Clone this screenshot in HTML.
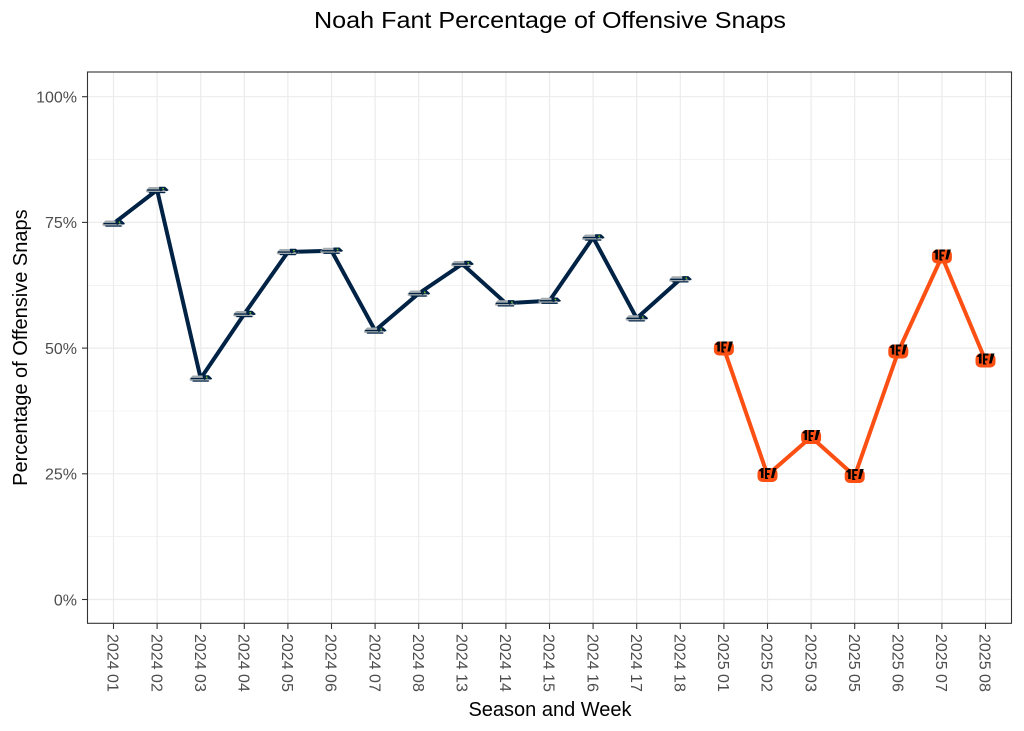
<!DOCTYPE html>
<html>
<head>
<meta charset="utf-8">
<style>
  html,body{margin:0;padding:0;background:#fff;}
  svg{display:block;}
  text{font-family:"Liberation Sans",sans-serif;}
</style>
</head>
<body>
<svg width="1024" height="731" viewBox="0 0 1024 731" xmlns="http://www.w3.org/2000/svg">
  <rect x="0" y="0" width="1024" height="731" fill="#fff"/>
  <!-- panel background -->
  <rect x="87.5" y="72" width="924" height="551.3" fill="#fff"/>
  <!-- minor gridlines -->
  <g stroke="#ebebeb" stroke-width="0.6">
    <line x1="87.5" x2="1011.5" y1="536.7" y2="536.7"/>
    <line x1="87.5" x2="1011.5" y1="411" y2="411"/>
    <line x1="87.5" x2="1011.5" y1="285.3" y2="285.3"/>
    <line x1="87.5" x2="1011.5" y1="159.6" y2="159.6"/>
  </g>
  <!-- major gridlines -->
  <g stroke="#ebebeb" stroke-width="1.2">
    <line x1="87.5" x2="1011.5" y1="599.5" y2="599.5"/>
    <line x1="87.5" x2="1011.5" y1="473.8" y2="473.8"/>
    <line x1="87.5" x2="1011.5" y1="348.1" y2="348.1"/>
    <line x1="87.5" x2="1011.5" y1="222.4" y2="222.4"/>
    <line x1="87.5" x2="1011.5" y1="96.7" y2="96.7"/>
    <line y1="72" y2="623.3" x1="113.5" x2="113.5"/>
    <line y1="72" y2="623.3" x1="157.1" x2="157.1"/>
    <line y1="72" y2="623.3" x1="200.7" x2="200.7"/>
    <line y1="72" y2="623.3" x1="244.3" x2="244.3"/>
    <line y1="72" y2="623.3" x1="287.9" x2="287.9"/>
    <line y1="72" y2="623.3" x1="331.5" x2="331.5"/>
    <line y1="72" y2="623.3" x1="375.1" x2="375.1"/>
    <line y1="72" y2="623.3" x1="418.7" x2="418.7"/>
    <line y1="72" y2="623.3" x1="462.3" x2="462.3"/>
    <line y1="72" y2="623.3" x1="505.9" x2="505.9"/>
    <line y1="72" y2="623.3" x1="549.5" x2="549.5"/>
    <line y1="72" y2="623.3" x1="593.1" x2="593.1"/>
    <line y1="72" y2="623.3" x1="636.7" x2="636.7"/>
    <line y1="72" y2="623.3" x1="680.3" x2="680.3"/>
    <line y1="72" y2="623.3" x1="723.9" x2="723.9"/>
    <line y1="72" y2="623.3" x1="767.5" x2="767.5"/>
    <line y1="72" y2="623.3" x1="811.1" x2="811.1"/>
    <line y1="72" y2="623.3" x1="854.7" x2="854.7"/>
    <line y1="72" y2="623.3" x1="898.3" x2="898.3"/>
    <line y1="72" y2="623.3" x1="941.9" x2="941.9"/>
    <line y1="72" y2="623.3" x1="985.5" x2="985.5"/>
  </g>

  <!-- series lines -->
  <polyline fill="none" stroke="#002244" stroke-width="4" stroke-linejoin="round"
    points="113.5,223.5 157.1,190 200.7,378.5 244.3,314 287.9,252 331.5,250.7 375.1,330.5 418.7,293.5 462.3,264 505.9,303.3 549.5,300.7 593.1,237.5 636.7,318.3 680.3,279.3"/>
  <polyline fill="none" stroke="#FB4F14" stroke-width="4" stroke-linejoin="round"
    points="723.9,348.5 767.5,475 811.1,437 854.7,476 898.3,351.5 941.9,256.5 985.5,360.5"/>

  <!-- Seahawks icons -->
  <g id="sea0" transform="translate(113.5,223.5)">
    <polygon points="-11,0 -8,-3 5,-3 10,-1.5 11.5,1 8,1 9,3 -8,3 -11,2" fill="#a5acaf"/>
    <polygon points="2,-3.2 8,-3.2 11.5,0 9.5,1.2 6.5,0 3.5,1.5 2,-1" fill="#002244"/>
    <rect x="-10" y="-0.6" width="13" height="1.3" fill="#002244"/>
    <rect x="-8" y="2" width="16" height="1.2" fill="#002244"/>
    <circle cx="6" cy="-1.2" r="0.9" fill="#69be28"/>
  </g>
  <g transform="translate(157.1,190)"><polygon points="-11,0 -8,-3 5,-3 10,-1.5 11.5,1 8,1 9,3 -8,3 -11,2" fill="#a5acaf"/><polygon points="2,-3.2 8,-3.2 11.5,0 9.5,1.2 6.5,0 3.5,1.5 2,-1" fill="#002244"/><rect x="-10" y="-0.6" width="13" height="1.3" fill="#002244"/><rect x="-8" y="2" width="16" height="1.2" fill="#002244"/><circle cx="6" cy="-1.2" r="0.9" fill="#69be28"/></g>
  <g transform="translate(200.7,378.5)"><polygon points="-11,0 -8,-3 5,-3 10,-1.5 11.5,1 8,1 9,3 -8,3 -11,2" fill="#a5acaf"/><polygon points="2,-3.2 8,-3.2 11.5,0 9.5,1.2 6.5,0 3.5,1.5 2,-1" fill="#002244"/><rect x="-10" y="-0.6" width="13" height="1.3" fill="#002244"/><rect x="-8" y="2" width="16" height="1.2" fill="#002244"/><circle cx="6" cy="-1.2" r="0.9" fill="#69be28"/></g>
  <g transform="translate(244.3,314)"><polygon points="-11,0 -8,-3 5,-3 10,-1.5 11.5,1 8,1 9,3 -8,3 -11,2" fill="#a5acaf"/><polygon points="2,-3.2 8,-3.2 11.5,0 9.5,1.2 6.5,0 3.5,1.5 2,-1" fill="#002244"/><rect x="-10" y="-0.6" width="13" height="1.3" fill="#002244"/><rect x="-8" y="2" width="16" height="1.2" fill="#002244"/><circle cx="6" cy="-1.2" r="0.9" fill="#69be28"/></g>
  <g transform="translate(287.9,252)"><polygon points="-11,0 -8,-3 5,-3 10,-1.5 11.5,1 8,1 9,3 -8,3 -11,2" fill="#a5acaf"/><polygon points="2,-3.2 8,-3.2 11.5,0 9.5,1.2 6.5,0 3.5,1.5 2,-1" fill="#002244"/><rect x="-10" y="-0.6" width="13" height="1.3" fill="#002244"/><rect x="-8" y="2" width="16" height="1.2" fill="#002244"/><circle cx="6" cy="-1.2" r="0.9" fill="#69be28"/></g>
  <g transform="translate(331.5,250.7)"><polygon points="-11,0 -8,-3 5,-3 10,-1.5 11.5,1 8,1 9,3 -8,3 -11,2" fill="#a5acaf"/><polygon points="2,-3.2 8,-3.2 11.5,0 9.5,1.2 6.5,0 3.5,1.5 2,-1" fill="#002244"/><rect x="-10" y="-0.6" width="13" height="1.3" fill="#002244"/><rect x="-8" y="2" width="16" height="1.2" fill="#002244"/><circle cx="6" cy="-1.2" r="0.9" fill="#69be28"/></g>
  <g transform="translate(375.1,330.5)"><polygon points="-11,0 -8,-3 5,-3 10,-1.5 11.5,1 8,1 9,3 -8,3 -11,2" fill="#a5acaf"/><polygon points="2,-3.2 8,-3.2 11.5,0 9.5,1.2 6.5,0 3.5,1.5 2,-1" fill="#002244"/><rect x="-10" y="-0.6" width="13" height="1.3" fill="#002244"/><rect x="-8" y="2" width="16" height="1.2" fill="#002244"/><circle cx="6" cy="-1.2" r="0.9" fill="#69be28"/></g>
  <g transform="translate(418.7,293.5)"><polygon points="-11,0 -8,-3 5,-3 10,-1.5 11.5,1 8,1 9,3 -8,3 -11,2" fill="#a5acaf"/><polygon points="2,-3.2 8,-3.2 11.5,0 9.5,1.2 6.5,0 3.5,1.5 2,-1" fill="#002244"/><rect x="-10" y="-0.6" width="13" height="1.3" fill="#002244"/><rect x="-8" y="2" width="16" height="1.2" fill="#002244"/><circle cx="6" cy="-1.2" r="0.9" fill="#69be28"/></g>
  <g transform="translate(462.3,264)"><polygon points="-11,0 -8,-3 5,-3 10,-1.5 11.5,1 8,1 9,3 -8,3 -11,2" fill="#a5acaf"/><polygon points="2,-3.2 8,-3.2 11.5,0 9.5,1.2 6.5,0 3.5,1.5 2,-1" fill="#002244"/><rect x="-10" y="-0.6" width="13" height="1.3" fill="#002244"/><rect x="-8" y="2" width="16" height="1.2" fill="#002244"/><circle cx="6" cy="-1.2" r="0.9" fill="#69be28"/></g>
  <g transform="translate(505.9,303.3)"><polygon points="-11,0 -8,-3 5,-3 10,-1.5 11.5,1 8,1 9,3 -8,3 -11,2" fill="#a5acaf"/><polygon points="2,-3.2 8,-3.2 11.5,0 9.5,1.2 6.5,0 3.5,1.5 2,-1" fill="#002244"/><rect x="-10" y="-0.6" width="13" height="1.3" fill="#002244"/><rect x="-8" y="2" width="16" height="1.2" fill="#002244"/><circle cx="6" cy="-1.2" r="0.9" fill="#69be28"/></g>
  <g transform="translate(549.5,300.7)"><polygon points="-11,0 -8,-3 5,-3 10,-1.5 11.5,1 8,1 9,3 -8,3 -11,2" fill="#a5acaf"/><polygon points="2,-3.2 8,-3.2 11.5,0 9.5,1.2 6.5,0 3.5,1.5 2,-1" fill="#002244"/><rect x="-10" y="-0.6" width="13" height="1.3" fill="#002244"/><rect x="-8" y="2" width="16" height="1.2" fill="#002244"/><circle cx="6" cy="-1.2" r="0.9" fill="#69be28"/></g>
  <g transform="translate(593.1,237.5)"><polygon points="-11,0 -8,-3 5,-3 10,-1.5 11.5,1 8,1 9,3 -8,3 -11,2" fill="#a5acaf"/><polygon points="2,-3.2 8,-3.2 11.5,0 9.5,1.2 6.5,0 3.5,1.5 2,-1" fill="#002244"/><rect x="-10" y="-0.6" width="13" height="1.3" fill="#002244"/><rect x="-8" y="2" width="16" height="1.2" fill="#002244"/><circle cx="6" cy="-1.2" r="0.9" fill="#69be28"/></g>
  <g transform="translate(636.7,318.3)"><polygon points="-11,0 -8,-3 5,-3 10,-1.5 11.5,1 8,1 9,3 -8,3 -11,2" fill="#a5acaf"/><polygon points="2,-3.2 8,-3.2 11.5,0 9.5,1.2 6.5,0 3.5,1.5 2,-1" fill="#002244"/><rect x="-10" y="-0.6" width="13" height="1.3" fill="#002244"/><rect x="-8" y="2" width="16" height="1.2" fill="#002244"/><circle cx="6" cy="-1.2" r="0.9" fill="#69be28"/></g>
  <g transform="translate(680.3,279.3)"><polygon points="-11,0 -8,-3 5,-3 10,-1.5 11.5,1 8,1 9,3 -8,3 -11,2" fill="#a5acaf"/><polygon points="2,-3.2 8,-3.2 11.5,0 9.5,1.2 6.5,0 3.5,1.5 2,-1" fill="#002244"/><rect x="-10" y="-0.6" width="13" height="1.3" fill="#002244"/><rect x="-8" y="2" width="16" height="1.2" fill="#002244"/><circle cx="6" cy="-1.2" r="0.9" fill="#69be28"/></g>

  <!-- Bengals icons -->
  <g transform="translate(723.9,348.5)"><rect x="-10" y="-7" width="20" height="14" rx="5" fill="#FB4F14"/><polygon points="-9,-4 -6,-7 -4,-7 -4,3 -6.5,3 -6.5,-3.5" fill="#000"/><polygon points="-2.5,-7 3,-7 3,-5 -0.5,-5 -0.5,-2 2,-2 2,0 -0.5,0 -0.5,2 1,4 -2.5,4" fill="#000"/><polygon points="5.5,-7 9,-7 6,3 3.5,3" fill="#000"/></g>
  <g transform="translate(767.5,475)"><rect x="-10" y="-7" width="20" height="14" rx="5" fill="#FB4F14"/><polygon points="-9,-4 -6,-7 -4,-7 -4,3 -6.5,3 -6.5,-3.5" fill="#000"/><polygon points="-2.5,-7 3,-7 3,-5 -0.5,-5 -0.5,-2 2,-2 2,0 -0.5,0 -0.5,2 1,4 -2.5,4" fill="#000"/><polygon points="5.5,-7 9,-7 6,3 3.5,3" fill="#000"/></g>
  <g transform="translate(811.1,437)"><rect x="-10" y="-7" width="20" height="14" rx="5" fill="#FB4F14"/><polygon points="-9,-4 -6,-7 -4,-7 -4,3 -6.5,3 -6.5,-3.5" fill="#000"/><polygon points="-2.5,-7 3,-7 3,-5 -0.5,-5 -0.5,-2 2,-2 2,0 -0.5,0 -0.5,2 1,4 -2.5,4" fill="#000"/><polygon points="5.5,-7 9,-7 6,3 3.5,3" fill="#000"/></g>
  <g transform="translate(854.7,476)"><rect x="-10" y="-7" width="20" height="14" rx="5" fill="#FB4F14"/><polygon points="-9,-4 -6,-7 -4,-7 -4,3 -6.5,3 -6.5,-3.5" fill="#000"/><polygon points="-2.5,-7 3,-7 3,-5 -0.5,-5 -0.5,-2 2,-2 2,0 -0.5,0 -0.5,2 1,4 -2.5,4" fill="#000"/><polygon points="5.5,-7 9,-7 6,3 3.5,3" fill="#000"/></g>
  <g transform="translate(898.3,351.5)"><rect x="-10" y="-7" width="20" height="14" rx="5" fill="#FB4F14"/><polygon points="-9,-4 -6,-7 -4,-7 -4,3 -6.5,3 -6.5,-3.5" fill="#000"/><polygon points="-2.5,-7 3,-7 3,-5 -0.5,-5 -0.5,-2 2,-2 2,0 -0.5,0 -0.5,2 1,4 -2.5,4" fill="#000"/><polygon points="5.5,-7 9,-7 6,3 3.5,3" fill="#000"/></g>
  <g transform="translate(941.9,256.5)"><rect x="-10" y="-7" width="20" height="14" rx="5" fill="#FB4F14"/><polygon points="-9,-4 -6,-7 -4,-7 -4,3 -6.5,3 -6.5,-3.5" fill="#000"/><polygon points="-2.5,-7 3,-7 3,-5 -0.5,-5 -0.5,-2 2,-2 2,0 -0.5,0 -0.5,2 1,4 -2.5,4" fill="#000"/><polygon points="5.5,-7 9,-7 6,3 3.5,3" fill="#000"/></g>
  <g transform="translate(985.5,360.5)"><rect x="-10" y="-7" width="20" height="14" rx="5" fill="#FB4F14"/><polygon points="-9,-4 -6,-7 -4,-7 -4,3 -6.5,3 -6.5,-3.5" fill="#000"/><polygon points="-2.5,-7 3,-7 3,-5 -0.5,-5 -0.5,-2 2,-2 2,0 -0.5,0 -0.5,2 1,4 -2.5,4" fill="#000"/><polygon points="5.5,-7 9,-7 6,3 3.5,3" fill="#000"/></g>

  <!-- panel border -->
  <rect x="87.5" y="72" width="924" height="551.3" fill="none" stroke="#333" stroke-width="1.1"/>

  <!-- y ticks -->
  <g stroke="#333" stroke-width="1.1">
    <line x1="82" x2="87.5" y1="599.5" y2="599.5"/>
    <line x1="82" x2="87.5" y1="473.8" y2="473.8"/>
    <line x1="82" x2="87.5" y1="348.1" y2="348.1"/>
    <line x1="82" x2="87.5" y1="222.4" y2="222.4"/>
    <line x1="82" x2="87.5" y1="96.7" y2="96.7"/>
  </g>
  <g fill="#4d4d4d" font-size="16" text-anchor="end">
    <text x="77" y="605.3">0%</text>
    <text x="77" y="479.6">25%</text>
    <text x="77" y="353.9">50%</text>
    <text x="77" y="228.2">75%</text>
    <text x="77" y="102.5">100%</text>
  </g>

  <!-- x ticks -->
  <g stroke="#333" stroke-width="1.1">
    <line y1="623.3" y2="629" x1="113.5" x2="113.5"/>
    <line y1="623.3" y2="629" x1="157.1" x2="157.1"/>
    <line y1="623.3" y2="629" x1="200.7" x2="200.7"/>
    <line y1="623.3" y2="629" x1="244.3" x2="244.3"/>
    <line y1="623.3" y2="629" x1="287.9" x2="287.9"/>
    <line y1="623.3" y2="629" x1="331.5" x2="331.5"/>
    <line y1="623.3" y2="629" x1="375.1" x2="375.1"/>
    <line y1="623.3" y2="629" x1="418.7" x2="418.7"/>
    <line y1="623.3" y2="629" x1="462.3" x2="462.3"/>
    <line y1="623.3" y2="629" x1="505.9" x2="505.9"/>
    <line y1="623.3" y2="629" x1="549.5" x2="549.5"/>
    <line y1="623.3" y2="629" x1="593.1" x2="593.1"/>
    <line y1="623.3" y2="629" x1="636.7" x2="636.7"/>
    <line y1="623.3" y2="629" x1="680.3" x2="680.3"/>
    <line y1="623.3" y2="629" x1="723.9" x2="723.9"/>
    <line y1="623.3" y2="629" x1="767.5" x2="767.5"/>
    <line y1="623.3" y2="629" x1="811.1" x2="811.1"/>
    <line y1="623.3" y2="629" x1="854.7" x2="854.7"/>
    <line y1="623.3" y2="629" x1="898.3" x2="898.3"/>
    <line y1="623.3" y2="629" x1="941.9" x2="941.9"/>
    <line y1="623.3" y2="629" x1="985.5" x2="985.5"/>
  </g>
  <g fill="#4d4d4d" font-size="16">
    <text transform="translate(113.5,634) rotate(90)" dy="0.36em">2024 01</text>
    <text transform="translate(157.1,634) rotate(90)" dy="0.36em">2024 02</text>
    <text transform="translate(200.7,634) rotate(90)" dy="0.36em">2024 03</text>
    <text transform="translate(244.3,634) rotate(90)" dy="0.36em">2024 04</text>
    <text transform="translate(287.9,634) rotate(90)" dy="0.36em">2024 05</text>
    <text transform="translate(331.5,634) rotate(90)" dy="0.36em">2024 06</text>
    <text transform="translate(375.1,634) rotate(90)" dy="0.36em">2024 07</text>
    <text transform="translate(418.7,634) rotate(90)" dy="0.36em">2024 08</text>
    <text transform="translate(462.3,634) rotate(90)" dy="0.36em">2024 13</text>
    <text transform="translate(505.9,634) rotate(90)" dy="0.36em">2024 14</text>
    <text transform="translate(549.5,634) rotate(90)" dy="0.36em">2024 15</text>
    <text transform="translate(593.1,634) rotate(90)" dy="0.36em">2024 16</text>
    <text transform="translate(636.7,634) rotate(90)" dy="0.36em">2024 17</text>
    <text transform="translate(680.3,634) rotate(90)" dy="0.36em">2024 18</text>
    <text transform="translate(723.9,634) rotate(90)" dy="0.36em">2025 01</text>
    <text transform="translate(767.5,634) rotate(90)" dy="0.36em">2025 02</text>
    <text transform="translate(811.1,634) rotate(90)" dy="0.36em">2025 03</text>
    <text transform="translate(854.7,634) rotate(90)" dy="0.36em">2025 05</text>
    <text transform="translate(898.3,634) rotate(90)" dy="0.36em">2025 06</text>
    <text transform="translate(941.9,634) rotate(90)" dy="0.36em">2025 07</text>
    <text transform="translate(985.5,634) rotate(90)" dy="0.36em">2025 08</text>
  </g>

  <!-- axis titles -->
  <text x="550" y="716" font-size="20" text-anchor="middle" fill="#000">Season and Week</text>
  <text transform="translate(27,347.6) rotate(-90)" font-size="20" text-anchor="middle" fill="#000">Percentage of Offensive Snaps</text>

  <!-- title -->
  <text x="550" y="28" font-size="23" text-anchor="middle" fill="#000" textLength="472" lengthAdjust="spacingAndGlyphs">Noah Fant Percentage of Offensive Snaps</text>
</svg>
</body>
</html>
